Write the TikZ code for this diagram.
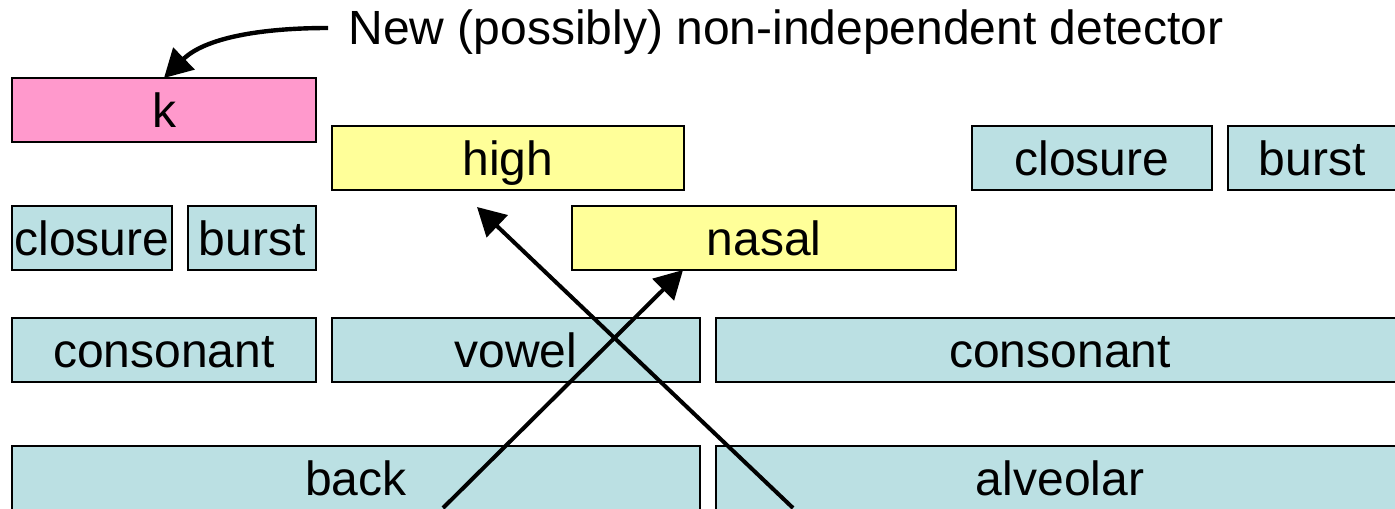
\documentclass[tikz,border=0pt]{standalone}
\usepackage{fontspec}
\setmainfont{Liberation Sans}
\usetikzlibrary{arrows.meta,calc}
\definecolor{segcyan}{HTML}{BBE0E3}
\definecolor{segyellow}{HTML}{FFFF99}
\definecolor{segpink}{HTML}{FF99CC}
\tikzset{
  seg/.style={draw=black, line width=1pt, fill=segcyan, inner sep=0pt, outer sep=0pt,
    minimum height=32pt, font=\fontsize{24}{28}\selectfont,
    text height=17.2pt, text depth=0pt},
  feat/.style={seg, fill=segyellow},
  newdet/.style={seg, fill=segpink},
  link/.style={line width=2pt, -{Triangle[length=14pt,width=15pt]}},
}
\begin{document}
\begin{tikzpicture}[x=0.5pt,y=-0.5pt]
\clip (0,0) rectangle (1395,508);
\fill[white] (0,0) rectangle (1395,508);

% detector tiers
\node[newdet, minimum width=152pt] (k) at (164,110) {k};
\node[feat, minimum width=176pt] (high) at (508,158) {high};
\node[seg, minimum width=120pt] (closR) at (1092,158) {closure};
\node[seg, minimum width=84pt] (burstR) at (1312,158) {burst};
\node[seg, minimum width=80pt] (closL) at (92,238) {closure};
\node[seg, minimum width=64pt] (burstL) at (252,238) {burst};
\node[feat, minimum width=192pt] (nasal) at (764,238) {nasal};
\node[seg, minimum width=152pt] (consL) at (164,350) {consonant};
\node[seg, minimum width=184pt] (vowel) at (516,350) {vowel};
\node[seg, minimum width=344pt] (consR) at (1060,350) {consonant};
\node[seg, minimum width=344pt] (back) at (356,478) {back};
\node[seg, minimum width=344pt] (alveolar) at (1060,478) {alveolar};

% annotation
\node[inner sep=0pt, anchor=base west, font=\fontsize{24}{28}\selectfont]
  (note) at (348,45) {New (possibly) non-independent detector};
\coordinate (noteTail) at ($(note.base west)+(-20,-17)$);
\draw[line width=2.2pt, -{Triangle[length=14pt,width=15pt]}]
  (noteTail) .. controls (260,28) and (205,38) .. (k.north);

% crossing links
\coordinate (backFoot) at (443,508);
\coordinate (alvFoot) at (793,508);
\coordinate (nasalTip) at ($(nasal.south west)+(111,0)$);
\coordinate (highTip) at ($(high.south west)+(145,17)$);
\draw[link] (backFoot) -- (nasalTip);
\draw[link] (alvFoot) -- (highTip);
\end{tikzpicture}
\end{document}
